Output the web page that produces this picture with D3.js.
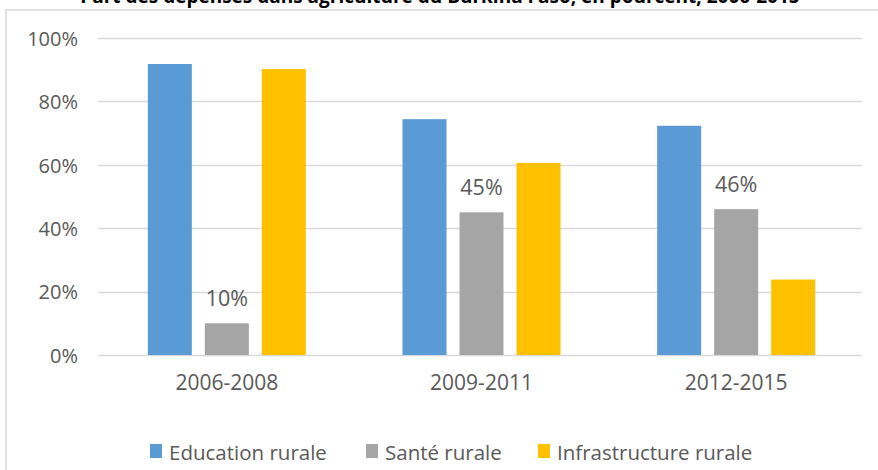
<!DOCTYPE html>
<html>
<head>
<meta charset="utf-8">
<script src="https://cdn.jsdelivr.net/npm/d3@7"></script>
<style>
  body { margin: 0; background: #fff; }
  text { font-family: "Open Sans", sans-serif; }
</style>
</head>
<body>
<div id="chart"></div>
<script>
// data
var periods = ["2006-2008", "2009-2011", "2012-2015"];
var seriesNames = ["Education rurale", "Santé rurale", "Infrastructure rurale"];
var education = [0.918, 0.744, 0.723];
var sante = [0.10, 0.45, 0.46];
var infrastructure = [0.902, 0.606, 0.238];
var yTicks = [0, 0.2, 0.4, 0.6, 0.8, 1];
var colors = ["#5B9BD5", "#A5A5A5", "#FFC000"];
var labelled = [false, true, false]; // only Santé has data labels

var svgWidth = 878;
var svgHeight = 470;

var svg = d3.select("#chart")
  .append("svg")
  .attr("width", svgWidth)
  .attr("height", svgHeight);

// title, mostly cut off at top of the picture
svg.append("text")
  .attr("x", 440)
  .attr("y", 3)
  .attr("text-anchor", "middle")
  .attr("font-weight", "bold")
  .attr("font-size", "19px")
  .attr("fill", "#000")
  .text("Part des dépenses dans agriculture du Burkina Faso, en pourcent, 2006-2015");

// chart frame
svg.append("rect")
  .attr("x", 6)
  .attr("y", 10)
  .attr("width", 880)
  .attr("height", 480)
  .attr("fill", "none")
  .attr("stroke", "#D9D9D9")
  .attr("stroke-width", 1.5);

var rows = periods.map(function(p, i) {
  return { period: p, values: [education[i], sante[i], infrastructure[i]] };
});

var x0 = d3.scaleBand()
  .domain(periods)
  .range([99.5, 863.5]);

var x1 = d3.scaleBand()
  .domain(seriesNames)
  .range([0, x0.bandwidth()])
  .paddingInner(0.228)
  .paddingOuter(0.848);

var y = d3.scaleLinear()
  .domain([0, 1])
  .range([355, 38]);

// gridlines
svg.append("g")
  .selectAll("line")
  .data(yTicks)
  .enter()
  .append("line")
  .attr("x1", 98)
  .attr("x2", 862)
  .attr("y1", d => Math.round(y(d)) + 0.5)
  .attr("y2", d => Math.round(y(d)) + 0.5)
  .attr("stroke", "#D9D9D9")
  .attr("stroke-width", 1.3);

// y axis labels
var yAxis = svg.append("g")
  .attr("transform", "translate(98,0)")
  .call(d3.axisLeft(y).tickValues(yTicks).tickFormat(d3.format(".0%")).tickSize(0).tickPadding(20));
yAxis.select(".domain").remove();
yAxis.selectAll("text")
  .attr("font-family", "Open Sans")
  .attr("font-size", "20px")
  .attr("fill", "#595959")
  .attr("dy", "0.36em");

// x axis labels
var xAxis = svg.append("g")
  .attr("transform", "translate(0,355)")
  .call(d3.axisBottom(x0).tickSize(0).tickPadding(20));
xAxis.select(".domain").remove();
xAxis.selectAll("text")
  .attr("font-family", "Open Sans")
  .attr("font-size", "21px")
  .attr("fill", "#595959")
  .attr("dy", "0.71em");

// bars
var groups = svg.append("g")
  .selectAll("g")
  .data(rows)
  .enter()
  .append("g")
  .attr("transform", d => `translate(${x0(d.period)},0)`);

groups.selectAll("rect")
  .data(d => d.values.map((v, k) => ({ name: seriesNames[k], value: v, k: k })))
  .enter()
  .append("rect")
  .attr("x", d => x1(d.name))
  .attr("y", d => y(d.value))
  .attr("width", x1.bandwidth())
  .attr("height", d => y(0) - y(d.value))
  .attr("fill", d => colors[d.k]);

// data labels on Santé rurale
groups.selectAll("text.lbl")
  .data(d => d.values.map((v, k) => ({ name: seriesNames[k], value: v, k: k })).filter(d => labelled[d.k]))
  .enter()
  .append("text")
  .attr("class", "lbl")
  .attr("x", d => x1(d.name) + x1.bandwidth() / 2)
  .attr("y", d => y(d.value) - 17.5)
  .attr("text-anchor", "middle")
  .attr("font-size", "21.5px")
  .attr("fill", "#595959")
  .text(d => d3.format(".0%")(d.value));

// legend
var legendX = [150, 366, 538];
var legend = svg.append("g")
  .selectAll("g")
  .data(seriesNames)
  .enter()
  .append("g")
  .attr("transform", (d, i) => `translate(${legendX[i]},0)`);

legend.append("rect")
  .attr("x", 0)
  .attr("y", 444)
  .attr("width", 12)
  .attr("height", 14)
  .attr("fill", (d, i) => colors[i]);

legend.append("text")
  .attr("x", 19)
  .attr("y", 460)
  .attr("font-size", "20.5px")
  .attr("fill", "#595959")
  .text(d => d);
</script>
</body>
</html>
